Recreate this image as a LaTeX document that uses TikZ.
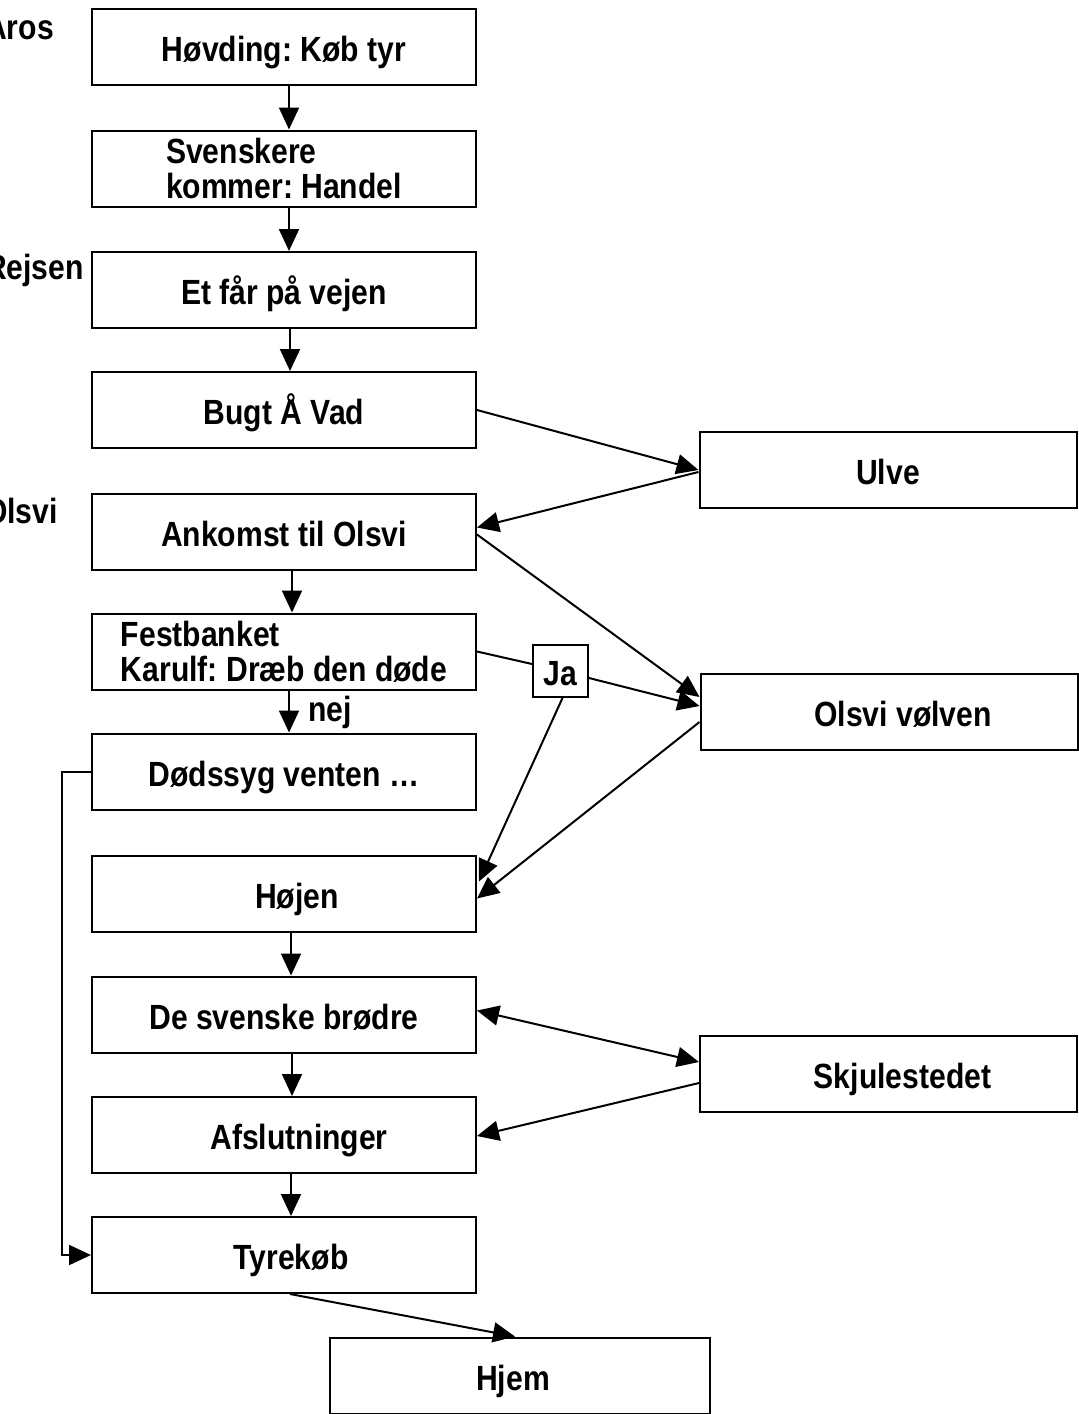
\documentclass[tikz,border=0pt]{standalone}
\usepackage{fontspec}
\setmainfont{Liberation Sans}[FakeStretch=0.86]
\usetikzlibrary{arrows.meta,calc}
\begin{document}
\frenchspacing
\begin{tikzpicture}[x=1pt,y=-1pt,
  font=\fontsize{35}{35}\selectfont\bfseries\frenchspacing,
  box/.style={draw, line width=2pt, minimum width=384pt, minimum height=76pt, inner sep=0pt, text height=29pt, text depth=0pt},
  mbox/.style={draw, line width=2pt, minimum width=384pt, minimum height=76pt, inner sep=0pt, align=left},
  rbox/.style={draw, line width=2pt, minimum width=377pt, minimum height=76pt, inner sep=0pt, text height=29pt, text depth=0pt},
  arr/.style={line width=2pt, -{Triangle[length=22pt,width=20pt]}},
  darr/.style={line width=2pt, {Triangle[length=22pt,width=20pt]}-{Triangle[length=22pt,width=20pt]}},
  ln/.style={line width=2pt}]
\clip (0,0) rectangle (1079,1414);
\useasboundingbox (0,0) rectangle (1079,1414);
% left labels
\node[anchor=east, inner sep=0pt] (aros) at (54,28) {Aros};
\node[anchor=east, inner sep=0pt] (rejsen) at (84,270) {Rejsen};
\node[anchor=east, inner sep=0pt] (olsvi) at (58,511) {Olsvi};
% main column
\node[box] (n1) at (284,46.5) {Høvding: Køb tyr};
\node[mbox] (n2) at (284,168.5) {Svenskere\\kommer: Handel};
\node[box] (n3) at (284,290) {Et får på vejen};
\node[box] (n4) at (284,410) {Bugt Å Vad};
\node[box] (n5) at (284,531.5) {Ankomst til Olsvi};
\node[mbox] (n6) at (284,651.5) {Festbanket\\Karulf: Dræb den døde};
\node[box] (n7) at (284,771.5) {Dødssyg venten \dots};
\node[box] (n8) at (284,893.5) {\hspace*{26pt}Højen};
\node[box] (n9) at (284,1014.5) {De svenske brødre};
\node[box] (n10) at (284,1135) {\hspace*{30pt}Afslutninger};
\node[box] (n11) at (284,1255) {\hspace*{14pt}Tyrekøb};
\node[rbox, minimum width=380pt] (hjem) at (520,1375.5) {\hspace*{-14pt}Hjem};
% right column
\node[rbox] (ulve) at (888,470) {Ulve};
\node[rbox] (olsvivolven) at (889,712) {\hspace*{28pt}Olsvi vølven};
\node[rbox] (skjul) at (888.5,1074) {\hspace*{28pt}Skjulestedet};
% Ja box
\node[draw, line width=2pt, minimum width=55pt, minimum height=52pt, inner sep=0pt, text height=29pt, text depth=0pt] (ja) at (560.5,671) {Ja};
\node[inner sep=0pt] (nej) at (330,712) {nej};
% vertical arrows
\draw[arr] ($(n1.south)+(5,0)$) -- ($(n2.north)+(5,0)$);
\draw[arr] ($(n2.south)+(5,0)$) -- ($(n3.north)+(5,0)$);
\draw[arr] ($(n3.south)+(6,0)$) -- ($(n4.north)+(6,0)$);
\draw[arr] ($(n5.south)+(8,0)$) -- ($(n6.north)+(8,0)$);
\draw[arr] ($(n6.south)+(5,0)$) -- ($(n7.north)+(5,0)$);
\draw[arr] ($(n8.south)+(7,0)$) -- ($(n9.north)+(7,0)$);
\draw[arr] ($(n9.south)+(8,0)$) -- ($(n10.north)+(8,0)$);
\draw[arr] ($(n10.south)+(7,0)$) -- ($(n11.north)+(7,0)$);
% diagonal connectors
\draw[arr] (n4.east) -- (ulve.west);
\draw[arr] ($(ulve.west)+(0,2)$) -- ($(n5.east)+(0,-4)$);
\draw[arr] ($(n5.east)+(0,3)$) -- ($(olsvivolven.west)+(0,-15)$);
\draw[ln] (n6.east) -- ($(ja.west)+(0,-7)$);
\draw[arr] ($(ja.east)+(0,7)$) -- ($(olsvivolven.west)+(0,-6)$);
\draw[arr] ($(ja.south)+(2,0)$) -- ($(n8.east)+(2,-12)$);
\draw[arr] ($(olsvivolven.west)+(0,10)$) -- ($(n8.east)+(0,5)$);
\draw[darr] ($(n9.east)+(0,-4)$) -- ($(skjul.west)+(0,-12)$);
\draw[arr] ($(skjul.west)+(0,9)$) -- ($(n10.east)+(0,1)$);
\draw[arr] (n7.west) -- ++(-29,0) |- (n11.west);
\draw[arr] ($(n11.south)+(6,0)$) -- ($(hjem.north)+(-5,0)$);
\end{tikzpicture}
\end{document}
